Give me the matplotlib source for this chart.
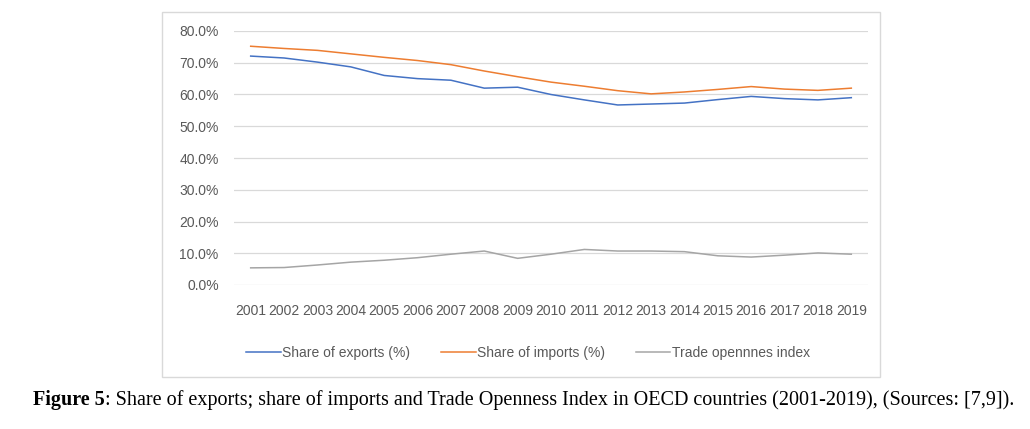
import matplotlib
matplotlib.use("Agg")
import matplotlib.pyplot as plt
from matplotlib.patches import Rectangle
from matplotlib.ticker import FuncFormatter

years = [str(y) for y in range(2001, 2020)]
exports = [72.1, 71.5, 70.2, 68.7, 66.0, 65.0, 64.5, 62.0, 62.3, 60.0,
           58.3, 56.7, 57.0, 57.3, 58.4, 59.4, 58.7, 58.3, 59.0]
imports = [75.2, 74.5, 73.9, 72.8, 71.7, 70.7, 69.4, 67.4, 65.6, 63.9,
           62.6, 61.2, 60.2, 60.8, 61.6, 62.5, 61.7, 61.3, 62.0]
openness = [5.4, 5.5, 6.3, 7.2, 7.8, 8.6, 9.7, 10.7, 8.4, 9.7,
            11.2, 10.7, 10.7, 10.5, 9.2, 8.8, 9.4, 10.1, 9.7]
labels = ["Share of exports (%)", "Share of imports (%)", "Trade opennnes index"]
colors = ["#4472C4", "#ED7D31", "#A5A5A5"]
caption_bold = "Figure 5"
caption_rest = ": Share of exports; share of imports and Trade Openness Index in OECD countries (2001-2019), (Sources: [7,9])."

W, H = 1030, 429
fig = plt.figure(figsize=(W / 100, H / 100), dpi=100)
chart_font = ["Liberation Sans", "DejaVu Sans"]
fs = 10

# chart frame
fig.patches.append(Rectangle((162 / W, 1 - 377 / H), (880 - 162) / W, (377 - 12) / H,
                             transform=fig.transFigure, fill=False,
                             edgecolor="#D9D9D9", linewidth=1.0))

ax = fig.add_axes([234 / W, 1 - 285 / H, (868 - 234) / W, (285 - 31) / H])
x = list(range(len(years)))
for vals, lab, c in zip([exports, imports, openness], labels, colors):
    ax.plot(x, vals, color=c, lw=1.1, label=lab)

ax.set_xlim(-0.5, len(years) - 0.5)
ax.set_ylim(0, 80)
ax.set_yticks(range(0, 81, 10))
ax.yaxis.set_major_formatter(FuncFormatter(lambda v, p: f"{v:.1f}%"))
ax.set_xticks(x)
ax.set_xticklabels(years)
ax.grid(axis="y", color="#D9D9D9", lw=0.9)
ax.set_axisbelow(True)
for s in ax.spines.values():
    s.set_visible(False)
ax.tick_params(length=0, colors="#595959", labelsize=fs)
ax.tick_params(axis="y", pad=11)
ax.tick_params(axis="x", pad=13.5)
for t in ax.get_xticklabels() + ax.get_yticklabels():
    t.set_family(chart_font)

leg = fig.legend(loc="center", bbox_to_anchor=(528 / W, 1 - 352.5 / H), ncol=3,
                 frameon=False, handlelength=2.5, handletextpad=0.1,
                 columnspacing=2.2, prop={"family": chart_font, "size": fs})
for t in leg.get_texts():
    t.set_color("#595959")

t1 = fig.text(33 / W, 1 - 400 / H, caption_bold, family="Liberation Serif",
              fontweight="bold", fontsize=14.5, va="center", ha="left")
fig.add_artist(plt.Annotation(caption_rest, xy=(1, 0), xycoords=t1, va="bottom",
                              ha="left", family="Liberation Serif", fontsize=14.5))

fig.savefig("out.png", dpi=100)
